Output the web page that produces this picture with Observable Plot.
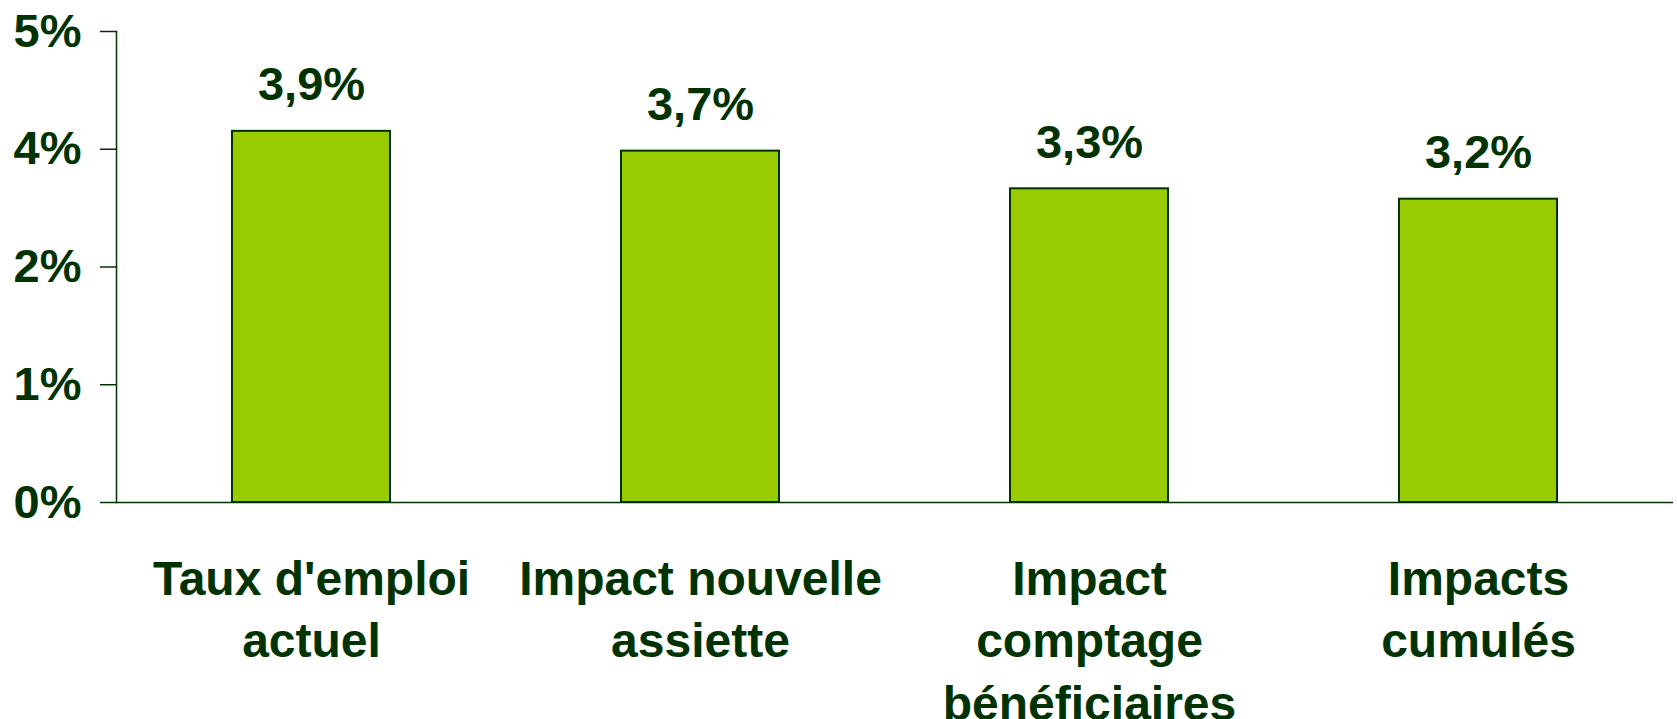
<!DOCTYPE html>
<html><head><meta charset="utf-8">
<script src="https://cdn.jsdelivr.net/npm/d3@7"></script>
<script src="https://cdn.jsdelivr.net/npm/@observablehq/plot@0.6"></script>
<style>html,body{margin:0;padding:0;background:#fff}</style>
</head><body><div id="chart"></div>
<script>
const categories = ["Taux d'emploi\nactuel", "Impact nouvelle\nassiette", "Impact\ncomptage\nbénéficiaires", "Impacts\ncumulés"];
const values = [3.94, 3.73, 3.33, 3.22];
const valueLabels = ["3,9%", "3,7%", "3,3%", "3,2%"];
const yTickValues = [0, 1.25, 2.5, 3.75, 5];
const yTickLabels = ["0%", "1%", "2%", "4%", "5%"];

const data = categories.map((c, i) => ({category: c, value: values[i], label: valueLabels[i]}));
const ink = "#003300";

const chart = Plot.plot({
  width: 1677, height: 719,
  marginTop: 31, marginBottom: 217, marginLeft: 116, marginRight: 4,
  style: {fontFamily: "'Liberation Sans', Arial, Helvetica, sans-serif", fontWeight: "bold", color: ink, background: "#fff", overflow: "visible"},
  x: {domain: categories, paddingInner: 0.594, paddingOuter: 0.297, axis: null},
  y: {domain: [0, 5], axis: null},
  marks: [
    Plot.barY(data, {x: "category", y: "value", fill: "#99cc00", stroke: ink, strokeWidth: 2}),
    Plot.ruleY([0], {stroke: ink, strokeWidth: 1.5}),
    Plot.frame({anchor: "left", stroke: ink, strokeWidth: 1.5}),
    Plot.axisY({ticks: yTickValues, tickFormat: d => yTickLabels[yTickValues.indexOf(d)], tickSize: 16, tickPadding: 19, fontSize: 47, color: ink, strokeWidth: 1.5, label: null}),
    Plot.text(data, {x: "category", y: "value", text: "label", lineAnchor: "bottom", dy: -31, fontSize: 47, fill: ink}),
    Plot.text(data, {x: "category", text: "category", frameAnchor: "bottom", lineAnchor: "top", dy: 48, fontSize: 48, lineHeight: 1.3, fill: ink})
  ]
});
document.getElementById("chart").appendChild(chart);
</script>
</body></html>
